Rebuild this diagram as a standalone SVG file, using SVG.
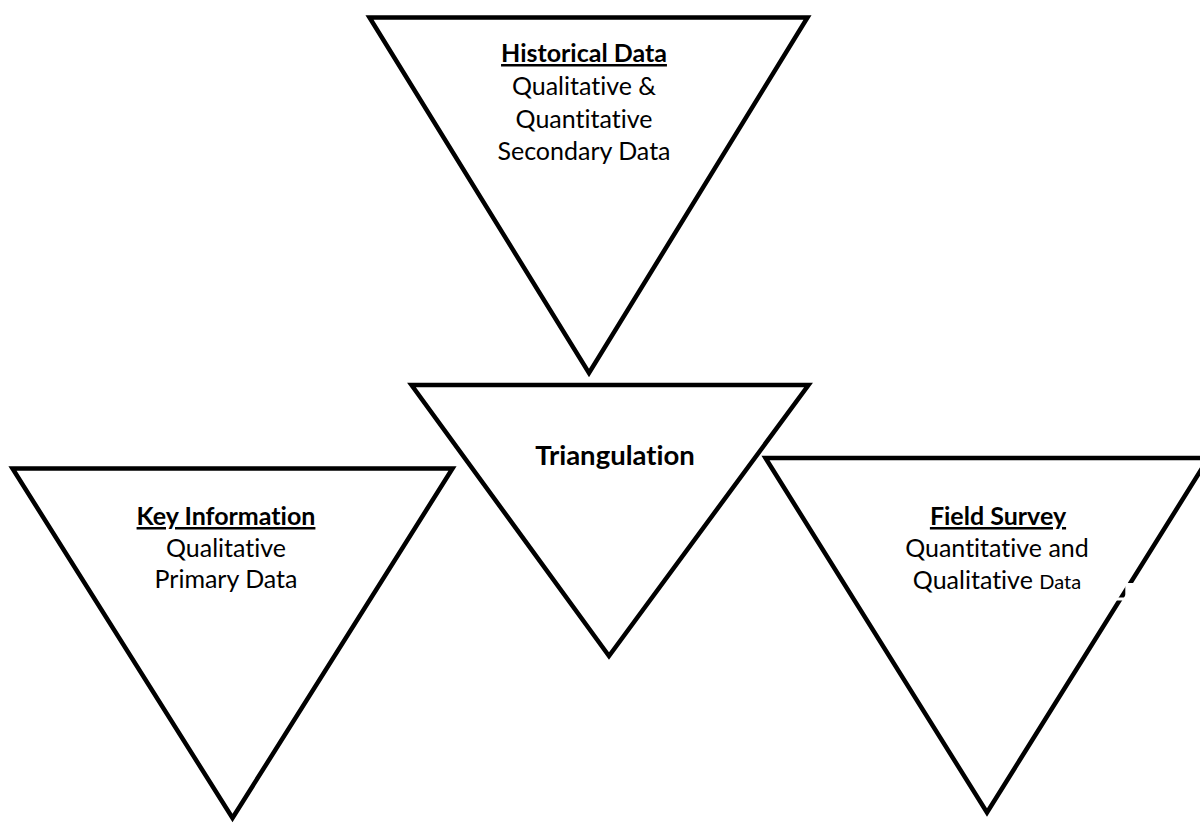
<svg xmlns="http://www.w3.org/2000/svg" width="1200" height="823" viewBox="0 0 1200 823">
  <style>
    .tri { fill: #ffffff; stroke: #000000; stroke-width: 4.5; stroke-linejoin: miter; }
    .t { font-family: Lato, "Liberation Sans", sans-serif; font-size: 25px; text-anchor: middle; fill: #000000; font-variant-ligatures: none; }
    .b { font-weight: bold; }
    .u { text-decoration: underline; }
    .big { font-size: 27.5px; }
  </style>
  <rect x="0" y="0" width="1200" height="823" fill="#ffffff"/>

  <!-- Historical data (top) -->
  <g id="historical">
    <polygon class="tri" points="369.5,17.5 807.5,17.5 589,373"/>
    <text class="t b u" x="584" y="62">Historical Data</text>
    <text class="t" x="584" y="95">Qualitative &amp;</text>
    <text class="t" x="584" y="128">Quantitative</text>
    <text class="t" x="584" y="160">Secondary Data</text>
  </g>

  <!-- Triangulation (centre) -->
  <g id="triangulation">
    <polygon class="tri" points="411.5,385 808.5,385 609,656"/>
    <text class="t b big" x="615" y="465">Triangulation</text>
  </g>

  <!-- Key information (left) -->
  <g id="key-information">
    <polygon class="tri" points="12.5,468.5 452.5,468.5 232.5,818"/>
    <text class="t b u" x="226" y="525">Key Information</text>
    <text class="t" x="226" y="557">Qualitative</text>
    <text class="t" x="226" y="588">Primary Data</text>
  </g>

  <!-- Field survey (right) -->
  <g id="field-survey">
    <polygon class="tri" points="765.5,458 1208.5,458 987,812.5"/>
    <!-- text box background breaking the right edge -->
    <rect x="1125.3" y="583" width="40" height="15" fill="#ffffff"/>
    <rect x="1108" y="597.5" width="50" height="3" fill="#ffffff"/>
    <text class="t b u" x="998" y="525">Field Survey</text>
    <text class="t" x="997" y="557">Quantitative and</text>
    <text class="t" x="997" y="589">Qualitative <tspan font-size="20">Data</tspan></text>
  </g>
</svg>
